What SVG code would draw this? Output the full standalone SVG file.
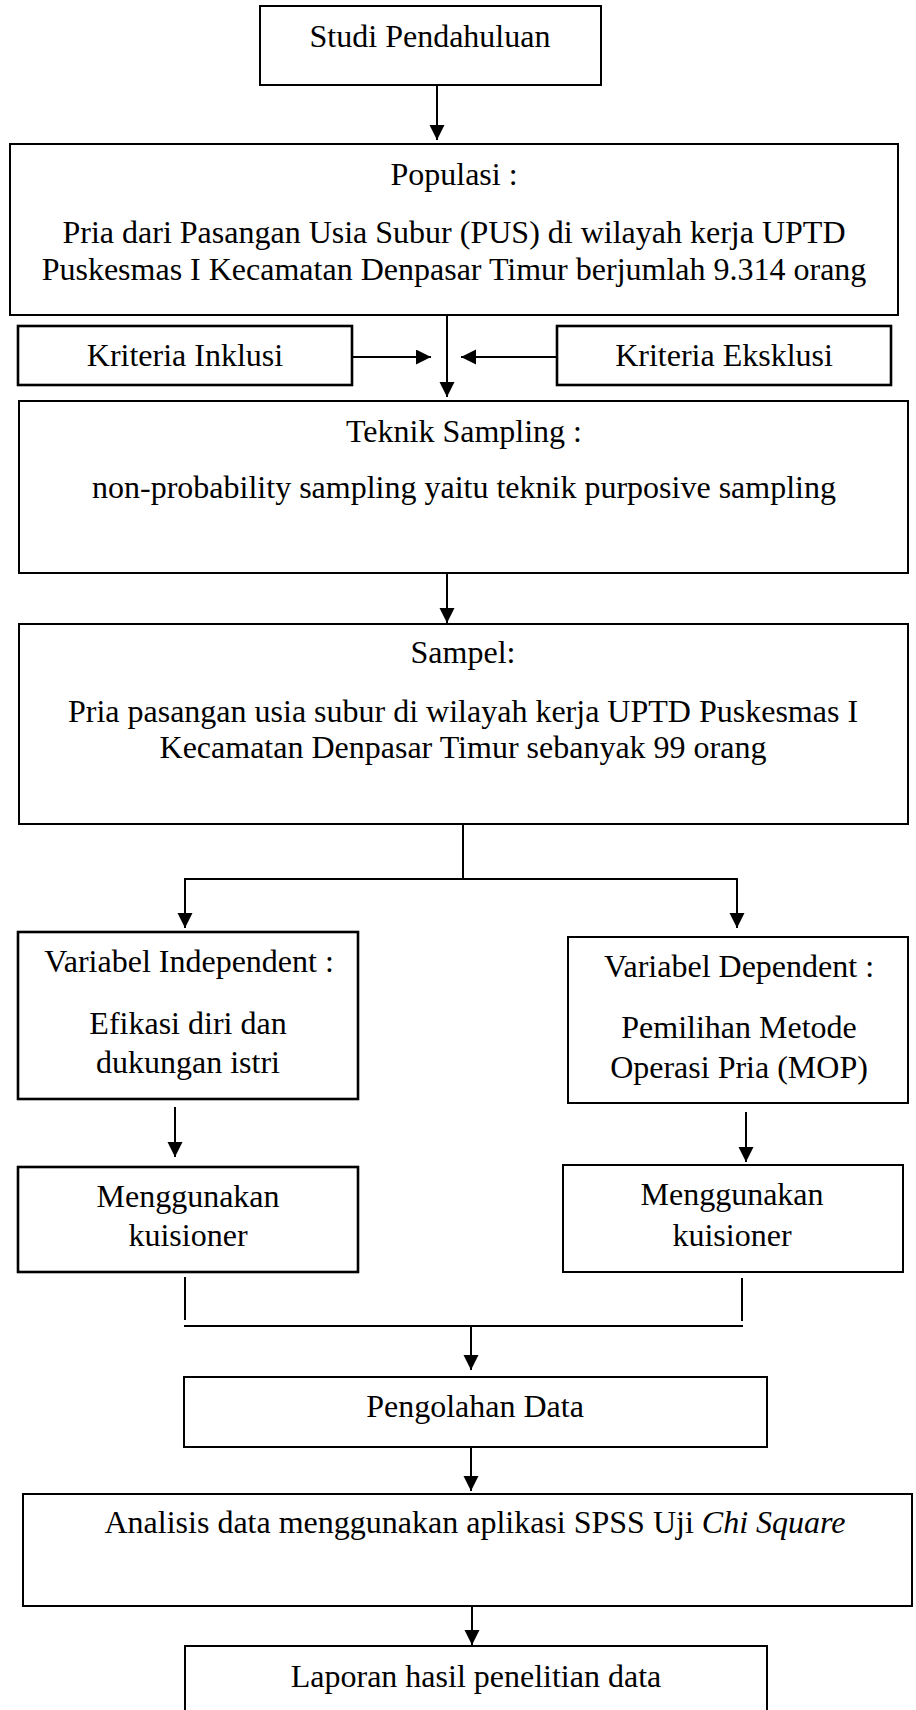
<svg xmlns="http://www.w3.org/2000/svg" width="916" height="1710" viewBox="0 0 916 1710">
<style>
.box{fill:#fff;stroke:#000;stroke-width:2}
.thick{stroke-width:2.6}
.t{font-family:"Liberation Serif","Times New Roman",serif;font-size:32px;fill:#000;text-anchor:middle}
.c{stroke:#000;stroke-width:2;fill:none}
</style>
<defs>
<marker id="ah" markerUnits="userSpaceOnUse" markerWidth="17" markerHeight="17" refX="15" refY="7.5" orient="auto">
<path d="M0,0 L15,7.5 L0,15 z" fill="#000"/>
</marker>
</defs>
<rect width="916" height="1710" fill="#fff"/>
<g id="connectors">
<line class="c" x1="437" y1="85" x2="437" y2="140" marker-end="url(#ah)"/>
<line class="c" x1="447" y1="315" x2="447" y2="397" marker-end="url(#ah)"/>
<line class="c" x1="352" y1="357" x2="431" y2="357" marker-end="url(#ah)"/>
<line class="c" x1="556" y1="357" x2="461" y2="357" marker-end="url(#ah)"/>
<line class="c" x1="447" y1="567" x2="447" y2="623" marker-end="url(#ah)"/>
<line class="c" x1="463" y1="822" x2="463" y2="879"/>
<line class="c" x1="184" y1="879" x2="738" y2="879"/>
<line class="c" x1="185" y1="879" x2="185" y2="928" marker-end="url(#ah)"/>
<line class="c" x1="737" y1="879" x2="737" y2="928" marker-end="url(#ah)"/>
<line class="c" x1="175" y1="1107" x2="175" y2="1157" marker-end="url(#ah)"/>
<line class="c" x1="746" y1="1112" x2="746" y2="1162" marker-end="url(#ah)"/>
<line class="c" x1="185" y1="1277" x2="185" y2="1320"/>
<line class="c" x1="742" y1="1278" x2="742" y2="1321"/>
<line class="c" x1="184" y1="1326" x2="743" y2="1326"/>
<line class="c" x1="471" y1="1326" x2="471" y2="1370" marker-end="url(#ah)"/>
<line class="c" x1="471" y1="1447" x2="471" y2="1491" marker-end="url(#ah)"/>
<line class="c" x1="472" y1="1601" x2="472" y2="1645" marker-end="url(#ah)"/>
</g>
<g id="studi">
<rect class="box" x="260" y="6" width="341" height="79"/>
<text class="t" x="430" y="47">Studi Pendahuluan</text>
</g>
<g id="populasi">
<rect class="box" x="10" y="144" width="888" height="171"/>
<text class="t" x="454" y="185">Populasi :</text>
<text class="t" x="454" y="243">Pria dari Pasangan Usia Subur (PUS) di wilayah kerja UPTD</text>
<text class="t" x="454" y="280">Puskesmas I Kecamatan Denpasar Timur berjumlah 9.314 orang</text>
</g>
<g id="inklusi">
<rect class="box thick" x="18" y="326" width="334" height="59"/>
<text class="t" x="185" y="366">Kriteria Inklusi</text>
</g>
<g id="eksklusi">
<rect class="box thick" x="557" y="326" width="334" height="59"/>
<text class="t" x="724" y="366">Kriteria Eksklusi</text>
</g>
<g id="teknik">
<rect class="box" x="19" y="401" width="889" height="172"/>
<text class="t" x="464" y="442">Teknik Sampling :</text>
<text class="t" x="464" y="498">non-probability sampling yaitu teknik purposive sampling</text>
</g>
<g id="sampel">
<rect class="box" x="19" y="624" width="889" height="200"/>
<text class="t" x="463" y="663">Sampel:</text>
<text class="t" x="463" y="722">Pria pasangan usia subur di wilayah kerja UPTD Puskesmas I</text>
<text class="t" x="463" y="758">Kecamatan Denpasar Timur sebanyak 99 orang</text>
</g>
<g id="independent">
<rect class="box thick" x="18" y="932" width="340" height="167"/>
<text class="t" x="189" y="972">Variabel Independent :</text>
<text class="t" x="188" y="1034">Efikasi diri dan</text>
<text class="t" x="188" y="1073">dukungan istri</text>
</g>
<g id="dependent">
<rect class="box" x="568" y="937" width="340" height="166"/>
<text class="t" x="739" y="977">Variabel Dependent :</text>
<text class="t" x="739" y="1038">Pemilihan Metode</text>
<text class="t" x="739" y="1078">Operasi Pria (MOP)</text>
</g>
<g id="kuisioner-kiri">
<rect class="box thick" x="18" y="1167" width="340" height="105"/>
<text class="t" x="188" y="1207">Menggunakan</text>
<text class="t" x="188" y="1246">kuisioner</text>
</g>
<g id="kuisioner-kanan">
<rect class="box" x="563" y="1165" width="340" height="107"/>
<text class="t" x="732" y="1205">Menggunakan</text>
<text class="t" x="732" y="1246">kuisioner</text>
</g>
<g id="pengolahan">
<rect class="box" x="184" y="1377" width="583" height="70"/>
<text class="t" x="475" y="1417">Pengolahan Data</text>
</g>
<g id="analisis">
<rect class="box" x="23" y="1494" width="889" height="112"/>
<text class="t" x="475" y="1533">Analisis data menggunakan aplikasi SPSS Uji <tspan font-style="italic">Chi Square</tspan></text>
</g>
<g id="laporan">
<rect class="box" x="185" y="1646" width="582" height="80"/>
<text class="t" x="476" y="1687">Laporan hasil penelitian data</text>
</g>
</svg>
